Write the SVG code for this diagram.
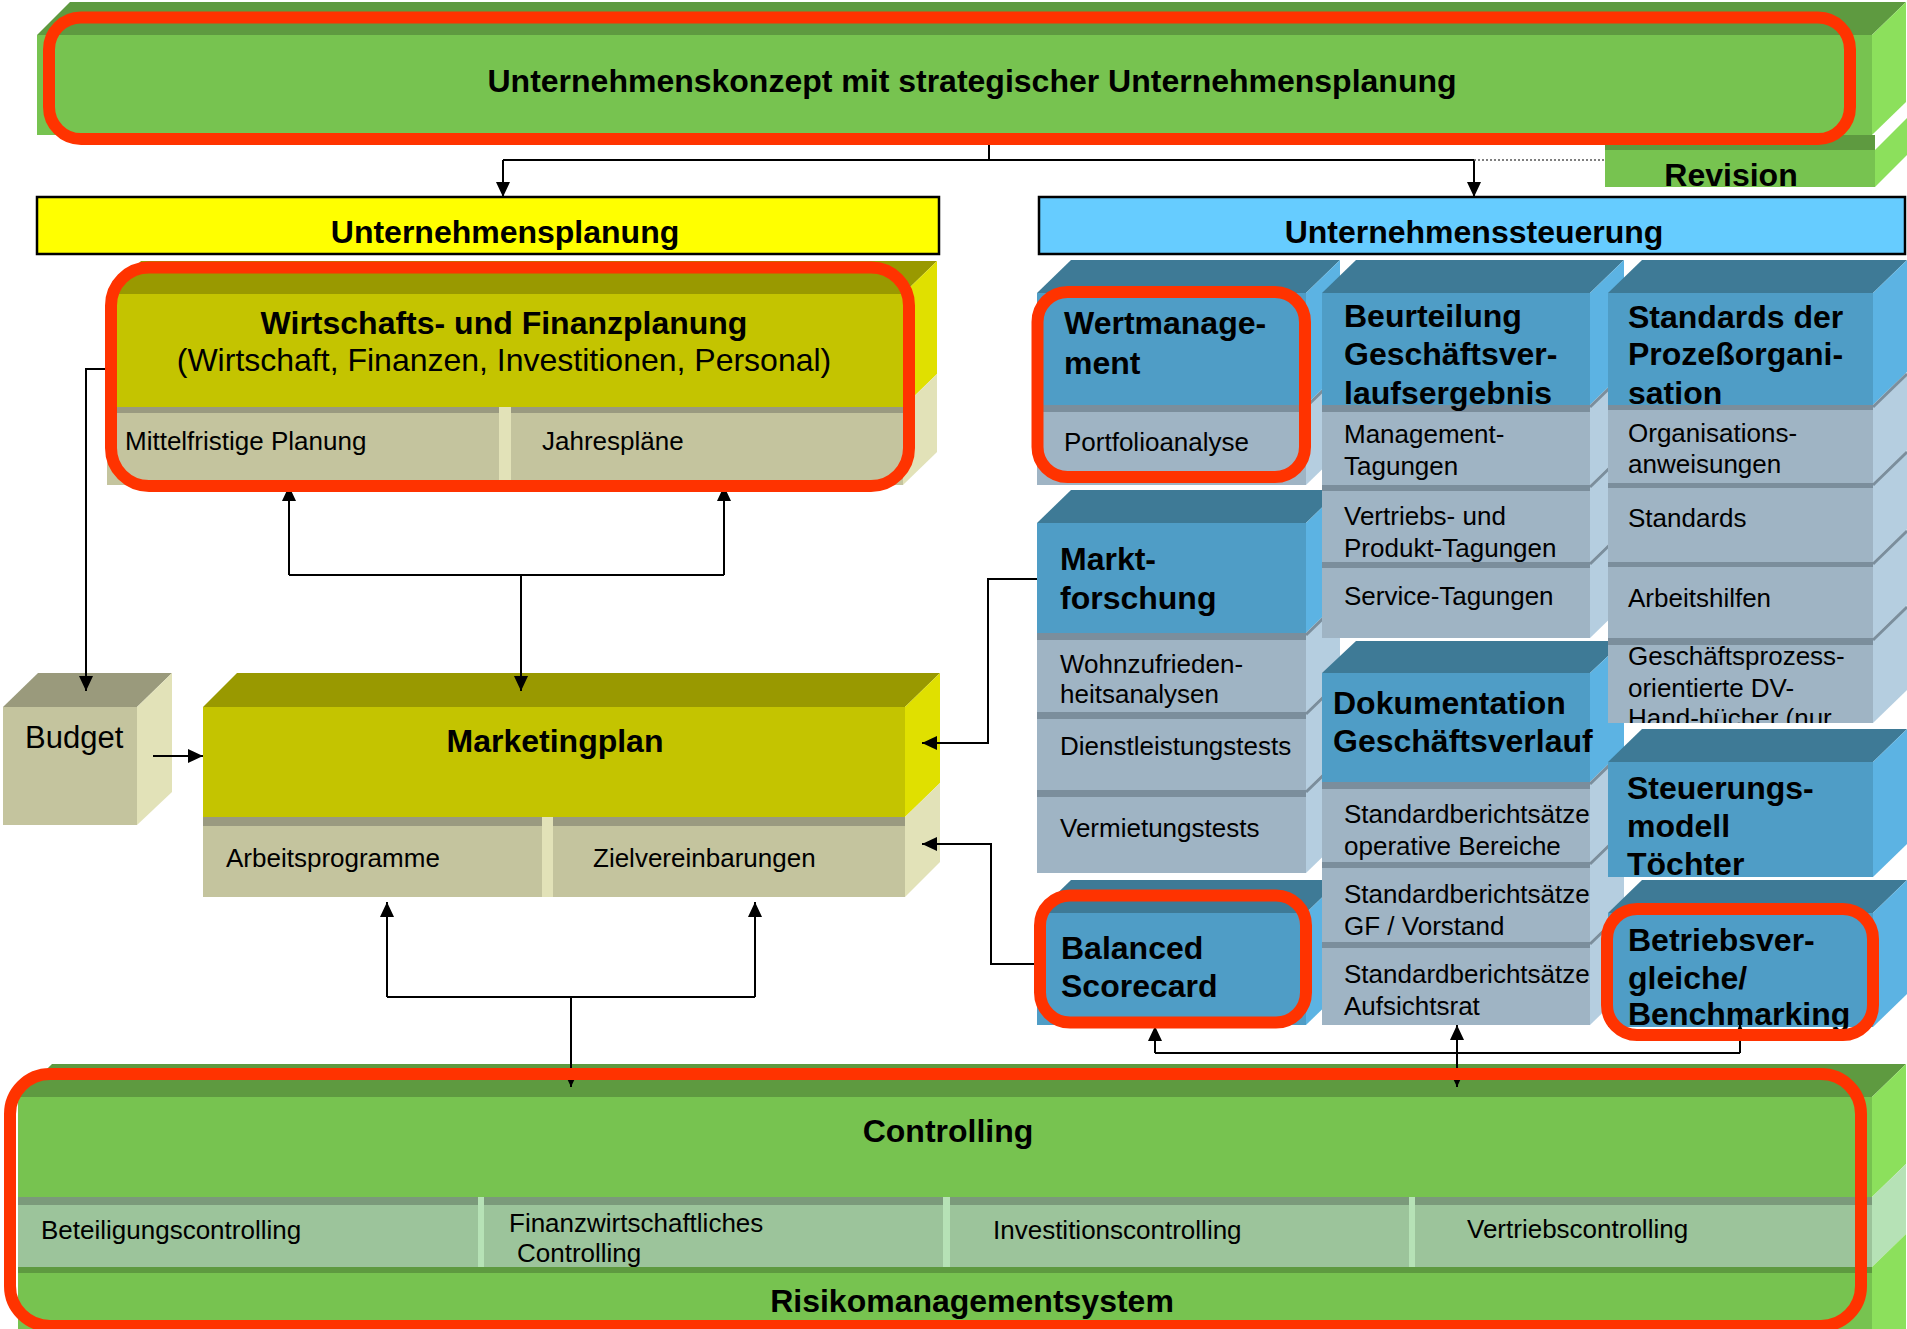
<svg xmlns="http://www.w3.org/2000/svg" width="1907" height="1329" viewBox="0 0 1907 1329">
  <defs>
    <style>
      text{font-family:"Liberation Sans",Arial,Helvetica,sans-serif;fill:#000}
      .hb{font-weight:bold;font-size:32px;transform:translateY(1.5px)}
      .sr{font-size:26px}
      .mid{text-anchor:middle}
      .gT{fill:#5e9a40}.gF{fill:#77c350}.gS{fill:#8ce05c}
      .oT{fill:#999900}.oF{fill:#c4c400}.oS{fill:#e0e000}
      .kT{fill:#9a9a7c}.kF{fill:#c4c49e}.kS{fill:#e2e2b8}.kL{fill:#9a9a80}
      .uT{fill:#3e7a96}.uF{fill:#4f9dc6}.uS{fill:#5cb3e3}
      .pF{fill:#9fb4c4}.pL{fill:#7b8e9c}.pS{fill:#b5cee0}
      .cF{fill:#9cc49b}.cL{fill:#7b9a7b}.cS{fill:#b6e2b6}
      .red{fill:none;stroke:#ff3300;stroke-width:12}
      .ln{fill:none;stroke:#000;stroke-width:2}
      .arr{marker-end:url(#ah)}
      .dot{fill:none;stroke:#555;stroke-width:1.5;stroke-dasharray:2 2}
      .bar{stroke:#000;stroke-width:2.5}
      .edge{fill:none;stroke:#7b8e9c;stroke-width:3}
    </style>
    <marker id="ah" viewBox="0 0 15 14" refX="15" refY="7" markerWidth="15" markerHeight="14" markerUnits="userSpaceOnUse" orient="auto">
      <path d="M0,0 L15,7 L0,14 z" fill="#000"/>
    </marker>
    <clipPath id="clipGP"><rect x="1608" y="645" width="265" height="78"/></clipPath>
  </defs>

  <rect x="0" y="0" width="1907" height="1329" fill="#fff"/>

  <!-- Revision (sits under the concept block) -->
  <g id="revision">
    <polygon class="gS" points="1875,150 1907,118 1907,155 1875,187"/>
    <rect class="gT" x="1605" y="135" width="270" height="15"/>
    <rect class="gF" x="1605" y="150" width="270" height="37"/>
    <text class="hb mid" x="1731" y="184">Revision</text>
  </g>

  <!-- Unternehmenskonzept -->
  <g id="konzept">
    <polygon class="gT" points="37,35 70,2 1906,2 1872,35"/>
    <rect class="gF" x="37" y="35" width="1835" height="100"/>
    <polygon class="gS" points="1872,35 1906,2 1906,102 1872,135"/>
    <text class="hb mid" x="972" y="90">Unternehmenskonzept mit strategischer Unternehmensplanung</text>
  </g>

  <!-- Header bars -->
  <g id="planung">
    <rect class="bar" x="37" y="197" width="902" height="57" fill="#ffff00"/>
    <text class="hb mid" x="505" y="241">Unternehmensplanung</text>
  </g>
  <g id="steuerung">
    <rect class="bar" x="1039" y="197" width="866" height="57" fill="#66ccff"/>
    <text class="hb mid" x="1474" y="241">Unternehmenssteuerung</text>
  </g>

  <!-- Wirtschafts- und Finanzplanung -->
  <g id="wirtschaft">
    <polygon class="oT" points="107,294 141,261 937,261 903,294"/>
    <polygon class="oS" points="903,294 937,261 937,374 903,407"/>
    <rect class="oF" x="107" y="294" width="796" height="113"/>
    <rect class="kL" x="107" y="407" width="796" height="6"/>
    <rect class="kF" x="107" y="413" width="796" height="72"/>
    <rect class="kS" x="499" y="407" width="12" height="78"/>
    <polygon class="kS" points="903,407 937,374 937,452 903,485"/>
    <text class="hb mid" x="504" y="332">Wirtschafts- und Finanzplanung</text>
    <text class="mid" x="504" y="371" font-size="32">(Wirtschaft, Finanzen, Investitionen, Personal)</text>
    <text class="sr" x="125" y="450">Mittelfristige Planung</text>
    <text class="sr" x="542" y="450">Jahrespläne</text>
  </g>

  <!-- Budget -->
  <g id="budget">
    <polygon class="kT" points="3,707 38,673 172,673 137,707"/>
    <rect class="kF" x="3" y="707" width="134" height="118"/>
    <polygon class="kS" points="137,707 172,673 172,792 137,825"/>
    <text x="25" y="748" font-size="31">Budget</text>
  </g>

  <!-- Marketingplan -->
  <g id="marketing">
    <polygon class="oT" points="203,707 237,673 940,673 905,707"/>
    <rect class="oF" x="203" y="707" width="702" height="110"/>
    <polygon class="oS" points="905,707 940,673 940,783 905,817"/>
    <rect class="kL" x="203" y="817" width="702" height="9"/>
    <rect class="kF" x="203" y="826" width="702" height="71"/>
    <rect class="kS" x="542" y="817" width="11" height="80"/>
    <polygon class="kS" points="905,817 940,783 940,862 905,897"/>
    <text class="hb mid" x="555" y="750">Marketingplan</text>
    <text class="sr" x="226" y="867">Arbeitsprogramme</text>
    <text class="sr" x="593" y="867">Zielvereinbarungen</text>
  </g>

  <!-- Column 1: Wertmanagement / Marktforschung / Balanced Scorecard -->
  <g id="wertmanagement">
    <polygon class="uT" points="1037,293 1071,260 1340,260 1306,293"/>
    <rect class="uF" x="1037" y="293" width="269" height="112"/>
    <polygon class="uS" points="1306,293 1340,260 1340,372 1306,405"/>
    <rect class="pL" x="1037" y="405" width="269" height="7"/>
    <rect class="pF" x="1037" y="412" width="269" height="73"/>
    <polygon class="pS" points="1306,405 1340,372 1340,452 1306,485"/>
    <line class="edge" x1="1306" y1="407" x2="1340" y2="374"/>
    <text class="hb" x="1064" y="332">Wertmanage-</text>
    <text class="hb" x="1064" y="372">ment</text>
    <text class="sr" x="1064" y="451">Portfolioanalyse</text>
  </g>
  <g id="marktforschung">
    <polygon class="uT" points="1037,523 1071,490 1340,490 1306,523"/>
    <rect class="uF" x="1037" y="523" width="269" height="110"/>
    <polygon class="uS" points="1306,523 1340,490 1340,600 1306,633"/>
    <rect class="pL" x="1037" y="633" width="269" height="7"/>
    <rect class="pF" x="1037" y="640" width="269" height="72"/>
    <polygon class="pS" points="1306,633 1340,600 1340,679 1306,712"/>
    <rect class="pL" x="1037" y="712" width="269" height="7"/>
    <rect class="pF" x="1037" y="719" width="269" height="71"/>
    <polygon class="pS" points="1306,712 1340,679 1340,757 1306,790"/>
    <rect class="pL" x="1037" y="790" width="269" height="7"/>
    <rect class="pF" x="1037" y="797" width="269" height="76"/>
    <polygon class="pS" points="1306,790 1340,757 1340,840 1306,873"/>
    <line class="edge" x1="1306" y1="635" x2="1340" y2="602"/>
    <line class="edge" x1="1306" y1="714" x2="1340" y2="681"/>
    <line class="edge" x1="1306" y1="792" x2="1340" y2="759"/>
    <text class="hb" x="1060" y="568">Markt-</text>
    <text class="hb" x="1060" y="607">forschung</text>
    <text class="sr" x="1060" y="673">Wohnzufrieden-</text>
    <text class="sr" x="1060" y="703">heitsanalysen</text>
    <text class="sr" x="1060" y="755">Dienstleistungstests</text>
    <text class="sr" x="1060" y="837">Vermietungstests</text>
  </g>
  <g id="balanced">
    <polygon class="uT" points="1037,913 1071,880 1340,880 1306,913"/>
    <rect class="uF" x="1037" y="913" width="269" height="112"/>
    <polygon class="uS" points="1306,913 1340,880 1340,992 1306,1025"/>
    <text class="hb" x="1061" y="957">Balanced</text>
    <text class="hb" x="1061" y="995">Scorecard</text>
  </g>

  <!-- Column 2: Beurteilung / Dokumentation -->
  <g id="beurteilung">
    <polygon class="uT" points="1322,293 1356,260 1624,260 1590,293"/>
    <rect class="uF" x="1322" y="293" width="268" height="112"/>
    <polygon class="uS" points="1590,293 1624,260 1624,372 1590,405"/>
    <rect class="pL" x="1322" y="405" width="268" height="7"/>
    <rect class="pF" x="1322" y="412" width="268" height="73"/>
    <polygon class="pS" points="1590,405 1624,372 1624,452 1590,485"/>
    <rect class="pL" x="1322" y="485" width="268" height="6"/>
    <rect class="pF" x="1322" y="491" width="268" height="71"/>
    <polygon class="pS" points="1590,485 1624,452 1624,529 1590,562"/>
    <rect class="pL" x="1322" y="562" width="268" height="6"/>
    <rect class="pF" x="1322" y="568" width="268" height="70"/>
    <polygon class="pS" points="1590,562 1624,529 1624,605 1590,638"/>
    <line class="edge" x1="1590" y1="407" x2="1624" y2="374"/>
    <line class="edge" x1="1590" y1="487" x2="1624" y2="454"/>
    <line class="edge" x1="1590" y1="564" x2="1624" y2="531"/>
    <text class="hb" x="1344" y="325">Beurteilung</text>
    <text class="hb" x="1344" y="363">Geschäftsver-</text>
    <text class="hb" x="1344" y="402">laufsergebnis</text>
    <text class="sr" x="1344" y="443">Management-</text>
    <text class="sr" x="1344" y="475">Tagungen</text>
    <text class="sr" x="1344" y="525">Vertriebs- und</text>
    <text class="sr" x="1344" y="557">Produkt-Tagungen</text>
    <text class="sr" x="1344" y="605">Service-Tagungen</text>
  </g>
  <g id="dokumentation">
    <polygon class="uT" points="1322,673 1356,641 1624,641 1590,673"/>
    <rect class="uF" x="1322" y="673" width="268" height="109"/>
    <polygon class="uS" points="1590,673 1624,641 1624,749 1590,782"/>
    <rect class="pL" x="1322" y="782" width="268" height="7"/>
    <rect class="pF" x="1322" y="789" width="268" height="73"/>
    <polygon class="pS" points="1590,782 1624,749 1624,829 1590,862"/>
    <rect class="pL" x="1322" y="862" width="268" height="6"/>
    <rect class="pF" x="1322" y="868" width="268" height="74"/>
    <polygon class="pS" points="1590,862 1624,829 1624,909 1590,942"/>
    <rect class="pL" x="1322" y="942" width="268" height="6"/>
    <rect class="pF" x="1322" y="948" width="268" height="77"/>
    <polygon class="pS" points="1590,942 1624,909 1624,992 1590,1025"/>
    <line class="edge" x1="1590" y1="784" x2="1624" y2="751"/>
    <line class="edge" x1="1590" y1="864" x2="1624" y2="831"/>
    <line class="edge" x1="1590" y1="944" x2="1624" y2="911"/>
    <text class="hb" x="1333" y="712">Dokumentation</text>
    <text class="hb" x="1333" y="750">Geschäftsverlauf</text>
    <text class="sr" x="1344" y="823">Standardberichtsätze</text>
    <text class="sr" x="1344" y="855">operative Bereiche</text>
    <text class="sr" x="1344" y="903">Standardberichtsätze</text>
    <text class="sr" x="1344" y="935">GF / Vorstand</text>
    <text class="sr" x="1344" y="983">Standardberichtsätze</text>
    <text class="sr" x="1344" y="1015">Aufsichtsrat</text>
  </g>

  <!-- Column 3: Prozeßorganisation / Steuerungsmodell / Betriebsvergleiche -->
  <g id="prozessorganisation">
    <polygon class="uT" points="1608,293 1642,260 1907,260 1873,293"/>
    <rect class="uF" x="1608" y="293" width="265" height="112"/>
    <polygon class="uS" points="1873,293 1907,260 1907,372 1873,405"/>
    <rect class="pL" x="1608" y="405" width="265" height="5"/>
    <rect class="pF" x="1608" y="410" width="265" height="73"/>
    <polygon class="pS" points="1873,405 1907,372 1907,450 1873,483"/>
    <rect class="pL" x="1608" y="483" width="265" height="5"/>
    <rect class="pF" x="1608" y="488" width="265" height="74"/>
    <polygon class="pS" points="1873,483 1907,450 1907,529 1873,562"/>
    <rect class="pL" x="1608" y="562" width="265" height="5"/>
    <rect class="pF" x="1608" y="567" width="265" height="71"/>
    <polygon class="pS" points="1873,562 1907,529 1907,605 1873,638"/>
    <rect class="pL" x="1608" y="638" width="265" height="7"/>
    <rect class="pF" x="1608" y="645" width="265" height="78"/>
    <polygon class="pS" points="1873,638 1907,605 1907,690 1873,723"/>
    <line class="edge" x1="1873" y1="407" x2="1907" y2="374"/>
    <line class="edge" x1="1873" y1="485" x2="1907" y2="452"/>
    <line class="edge" x1="1873" y1="564" x2="1907" y2="531"/>
    <line class="edge" x1="1873" y1="640" x2="1907" y2="607"/>
    <text class="hb" x="1628" y="326">Standards der</text>
    <text class="hb" x="1628" y="363">Prozeßorgani-</text>
    <text class="hb" x="1628" y="402">sation</text>
    <text class="sr" x="1628" y="442">Organisations-</text>
    <text class="sr" x="1628" y="473">anweisungen</text>
    <text class="sr" x="1628" y="527">Standards</text>
    <text class="sr" x="1628" y="607">Arbeitshilfen</text>
    <g clip-path="url(#clipGP)">
      <text class="sr" x="1628" y="665">Geschäftsprozess-</text>
      <text class="sr" x="1628" y="697">orientierte DV-</text>
      <text class="sr" x="1628" y="727">Hand-bücher (nur</text>
    </g>
  </g>
  <g id="steuerungsmodell">
    <polygon class="uT" points="1608,762 1642,729 1907,729 1873,762"/>
    <rect class="uF" x="1608" y="762" width="265" height="115"/>
    <polygon class="uS" points="1873,762 1907,729 1907,844 1873,877"/>
    <text class="hb" x="1627" y="797">Steuerungs-</text>
    <text class="hb" x="1627" y="835">modell</text>
    <text class="hb" x="1627" y="873">Töchter</text>
  </g>
  <g id="betriebsvergleiche">
    <polygon class="uT" points="1608,913 1642,880 1907,880 1873,913"/>
    <rect class="uF" x="1608" y="913" width="265" height="114"/>
    <polygon class="uS" points="1873,913 1907,880 1907,994 1873,1027"/>
    <text class="hb" x="1628" y="949">Betriebsver-</text>
    <text class="hb" x="1628" y="987">gleiche/</text>
    <text class="hb" x="1628" y="1023">Benchmarking</text>
  </g>

  <!-- Controlling / Risikomanagementsystem -->
  <g id="controlling">
    <polygon class="gT" points="18,1097 52,1064 1906,1064 1872,1097"/>
    <rect class="gF" x="18" y="1097" width="1854" height="100"/>
    <polygon class="gS" points="1872,1097 1906,1064 1906,1164 1872,1197"/>
    <rect class="cL" x="18" y="1197" width="1854" height="8"/>
    <rect class="cF" x="18" y="1205" width="1854" height="62"/>
    <rect class="cS" x="478" y="1197" width="6" height="70"/>
    <rect class="cS" x="943" y="1197" width="7" height="70"/>
    <rect class="cS" x="1409" y="1197" width="6" height="70"/>
    <polygon class="cS" points="1872,1197 1906,1164 1906,1234 1872,1267"/>
    <rect class="gT" x="18" y="1267" width="1854" height="6"/>
    <rect class="gF" x="18" y="1273" width="1854" height="56"/>
    <polygon class="gS" points="1872,1267 1906,1234 1906,1329 1872,1329"/>
    <text class="hb mid" x="948" y="1140">Controlling</text>
    <text class="sr" x="41" y="1239">Beteiligungscontrolling</text>
    <text class="sr" x="509" y="1232">Finanzwirtschaftliches</text>
    <text class="sr" x="517" y="1262">Controlling</text>
    <text class="sr" x="993" y="1239">Investitionscontrolling</text>
    <text class="sr" x="1467" y="1238">Vertriebscontrolling</text>
    <text class="hb mid" x="972" y="1310">Risikomanagementsystem</text>
  </g>

  <!-- Connectors -->
  <g id="connectors">
    <polyline class="ln" points="989,135 989,160"/>
    <polyline class="ln" points="503,160 1474,160"/>
    <line class="ln arr" x1="503" y1="160" x2="503" y2="197"/>
    <line class="ln arr" x1="1474" y1="160" x2="1474" y2="197"/>
    <line class="dot" x1="1474" y1="160" x2="1605" y2="160"/>

    <polyline class="ln arr" points="107,369 86,369 86,691"/>
    <line class="ln arr" x1="153" y1="756" x2="203" y2="756"/>

    <line class="ln arr" x1="521" y1="575" x2="521" y2="691"/>
    <polyline class="ln" points="289,575 724,575"/>
    <line class="ln arr" x1="289" y1="575" x2="289" y2="486"/>
    <line class="ln arr" x1="724" y1="575" x2="724" y2="486"/>

    <polyline class="ln arr" points="1037,579 988,579 988,743 922,743"/>
    <polyline class="ln arr" points="1037,964 991,964 991,844 922,844"/>

    <line class="ln arr" x1="571" y1="997" x2="571" y2="1087"/>
    <polyline class="ln" points="387,997 755,997"/>
    <line class="ln arr" x1="387" y1="997" x2="387" y2="902"/>
    <line class="ln arr" x1="755" y1="997" x2="755" y2="902"/>

    <line class="ln arr" x1="1457" y1="1053" x2="1457" y2="1087"/>
    <polyline class="ln" points="1155,1053 1740,1053"/>
    <line class="ln arr" x1="1155" y1="1053" x2="1155" y2="1026"/>
    <line class="ln arr" x1="1457" y1="1053" x2="1457" y2="1025"/>
    <line class="ln arr" x1="1740" y1="1053" x2="1740" y2="1024"/>
  </g>

  <!-- Highlight frames -->
  <g id="highlights">
    <rect class="red" x="49" y="17.5" width="1801" height="121.5" rx="32"/>
    <rect class="red" x="111" y="267.5" width="798" height="218.5" rx="38"/>
    <rect class="red" x="1037.5" y="292" width="267.5" height="185" rx="30"/>
    <rect class="red" x="1040" y="895.5" width="266" height="127" rx="30"/>
    <rect class="red" x="1607" y="909" width="266" height="126" rx="30"/>
    <rect class="red" x="10" y="1074" width="1851" height="252" rx="40"/>
  </g>
</svg>
